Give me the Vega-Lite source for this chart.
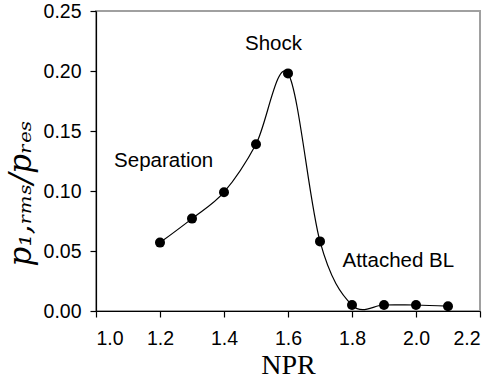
{
  "$schema": "https://vega.github.io/schema/vega-lite/v6.json",
  "autosize": "none",
  "width": 384,
  "height": 300,
  "padding": {"left": 96, "top": 11, "right": 15, "bottom": 74},
  "background": "white",
  "config": {
    "view": {"stroke": "#a0a0a0", "strokeWidth": 2},
    "axis": {
      "grid": false,
      "domainColor": "black",
      "domainWidth": 1.2,
      "tickColor": "black",
      "tickWidth": 1.2,
      "tickSize": 6,
      "labelFont": "Liberation Sans",
      "labelFontSize": 19.5,
      "labelColor": "black",
      "titleColor": "black",
      "titleFontWeight": "normal"
    }
  },
  "datasets": {
    "pts": [
      {"npr": 1.2, "p": 0.057},
      {"npr": 1.3, "p": 0.077},
      {"npr": 1.4, "p": 0.099},
      {"npr": 1.5, "p": 0.139},
      {"npr": 1.6, "p": 0.198},
      {"npr": 1.7, "p": 0.058},
      {"npr": 1.8, "p": 0.005},
      {"npr": 1.9, "p": 0.005},
      {"npr": 2.0, "p": 0.005},
      {"npr": 2.1, "p": 0.004}
    ],
    "labels": [
      {"npr": 1.2115, "p": 0.1196, "t": "Separation"},
      {"npr": 1.5547, "p": 0.2179, "t": "Shock"},
      {"npr": 1.9448, "p": 0.0368, "t": "Attached BL"}
    ]
  },
  "layer": [
    {
      "data": {"name": "pts"},
      "mark": {"type": "line", "interpolate": "cardinal", "color": "black", "strokeWidth": 1.2},
      "encoding": {
        "x": {
          "field": "npr", "type": "quantitative",
          "scale": {"domain": [1.0, 2.2], "nice": false, "zero": false},
          "axis": {"values": [1.0, 1.2, 1.4, 1.6, 1.8, 2.0, 2.2], "format": ".1f", "title": "NPR",
                   "labelPadding": 12,
                   "titleFont": "Liberation Serif", "titleFontSize": 28, "titlePadding": 4}
        },
        "y": {
          "field": "p", "type": "quantitative",
          "scale": {"domain": [0, 0.25], "nice": false},
          "axis": {"values": [0, 0.05, 0.1, 0.15, 0.2, 0.25], "format": ".2f", "title": "p₁,ᵣₘₛ/pᵣₑₛ",
                   "labelPadding": 9,
                   "titleFont": "DejaVu Serif", "titleFontStyle": "italic", "titleFontSize": 31, "titlePadding": 6,
                   "titleY": 182}
        }
      }
    },
    {
      "data": {"name": "pts"},
      "mark": {"type": "point", "filled": true, "color": "black", "size": 100, "opacity": 1},
      "encoding": {
        "x": {"field": "npr", "type": "quantitative"},
        "y": {"field": "p", "type": "quantitative"}
      }
    },
    {
      "data": {"name": "labels"},
      "mark": {"type": "text", "font": "Liberation Sans", "fontSize": 20.5, "color": "black", "align": "center", "baseline": "alphabetic"},
      "encoding": {
        "x": {"field": "npr", "type": "quantitative"},
        "y": {"field": "p", "type": "quantitative"},
        "text": {"field": "t"}
      }
    }
  ]
}
